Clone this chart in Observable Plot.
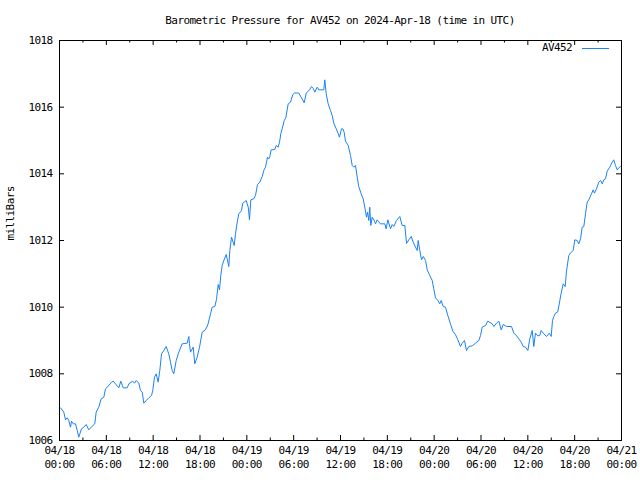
<!DOCTYPE html>
<html>
<head>
<meta charset="utf-8">
<script src="https://cdn.jsdelivr.net/npm/d3@7"></script>
<script src="https://cdn.jsdelivr.net/npm/@observablehq/plot@0.6"></script>
<style>
  html, body { margin: 0; padding: 0; background: #fff; }
  #wrap { position: relative; width: 640px; height: 480px; font-family: "DejaVu Sans Mono", monospace; font-size: 11px; letter-spacing: -0.6px; color: #000; }
  #title { box-sizing: border-box; height: 30px; padding: 10px 19px 0 59px; display: flex; align-items: center; justify-content: center; white-space: pre; }
  #legend { position: absolute; top: 42px; right: 31px; height: 12px; line-height: 12px; display: flex; align-items: center; white-space: pre; }
  #legend .swatch { display: inline-block; width: 27px; height: 0; border-top: 1px solid #1a82f5; margin-left: 10px; }
  svg text { letter-spacing: -0.6px; }
</style>
</head>
<body>
<div id="wrap">
  <div id="title"></div>
  <div id="chart"></div>
  <div id="legend"><span id="legendLabel"></span><span class="swatch"></span></div>
</div>
<script>
const titleText = "Barometric Pressure for AV452 on 2024-Apr-18 (time in UTC)";
const seriesName = "AV452";
const yLabel = "milliBars";
const lineColor = "#1a82f5";

// hours since 2024-04-18 00:00 UTC
const hours = [0.13,0.55,0.77,0.99,1.19,1.41,1.54,1.76,2.05,2.27,2.47,2.82,3.11,3.42,3.75,4.19,4.52,4.70,5.03,5.34,5.68,5.89,6.32,6.66,6.88,7.17,7.60,7.85,8.16,8.67,8.88,9.39,9.61,9.83,10.16,10.38,10.60,10.80,11.11,11.44,11.79,11.95,12.17,12.39,12.64,12.85,13.07,13.36,13.67,14.00,14.22,14.44,14.64,14.95,15.28,15.72,16.36,16.57,16.65,16.78,17.13,17.33,17.64,17.94,18.28,18.70,19.00,19.35,19.56,19.90,20.11,20.33,20.50,20.66,20.84,21.05,21.36,21.69,21.82,22.04,22.38,22.55,22.77,22.97,23.32,23.48,23.92,24.18,24.34,24.51,24.89,25.11,25.37,25.66,25.97,26.17,26.39,26.65,26.81,26.94,27.12,27.58,27.76,28.02,28.19,28.35,28.53,28.79,28.99,29.30,29.59,29.89,30.15,30.66,31.00,31.35,31.61,32.03,32.28,32.54,32.71,33.01,33.22,33.86,33.99,34.17,34.42,34.72,34.94,35.14,35.45,35.71,35.87,36.13,36.30,36.47,36.64,36.99,37.28,37.50,37.70,37.92,38.14,38.34,38.65,38.91,39.11,39.33,39.46,39.63,39.75,39.88,40.06,40.36,40.48,40.70,41.12,41.68,41.85,42.06,42.41,42.62,42.83,43.17,43.60,43.90,44.24,44.46,44.75,45.06,45.31,45.61,45.83,45.95,46.16,46.38,46.60,46.89,47.11,47.44,47.75,47.95,48.17,48.47,48.72,48.90,49.16,49.45,49.75,50.09,50.39,50.73,51.03,51.37,51.59,51.89,52.14,52.44,52.87,53.30,53.72,53.94,54.15,54.58,54.87,55.44,55.64,55.99,56.28,56.59,56.84,57.27,57.91,58.20,58.55,58.84,59.15,59.41,59.70,60.00,60.25,60.56,60.76,60.98,61.28,61.53,61.71,62.05,62.39,62.74,62.99,63.16,63.33,63.54,63.84,64.10,64.27,64.53,64.79,64.95,65.25,65.56,65.81,66.02,66.32,66.53,66.75,66.96,67.17,67.39,67.61,67.81,68.12,68.37,68.54,68.80,69.09,69.31,69.53,69.73,69.95,70.17,70.50,70.81,71.01,71.23,71.45,71.65,71.87];

const pressure = [1006.98,1006.85,1006.62,1006.68,1006.60,1006.40,1006.58,1006.50,1006.50,1006.30,1006.10,1006.35,1006.40,1006.48,1006.32,1006.43,1006.50,1006.85,1007.00,1007.25,1007.30,1007.55,1007.65,1007.75,1007.78,1007.70,1007.58,1007.78,1007.58,1007.58,1007.70,1007.78,1007.72,1007.80,1007.72,1007.50,1007.45,1007.12,1007.20,1007.28,1007.35,1007.50,1007.90,1008.00,1007.75,1008.10,1008.60,1008.70,1008.82,1008.60,1008.35,1008.10,1008.00,1008.40,1008.65,1008.90,1008.92,1009.12,1008.90,1008.65,1008.80,1008.30,1008.50,1008.80,1009.25,1009.32,1009.47,1009.80,1010.00,1010.02,1010.23,1010.68,1010.52,1010.95,1011.25,1011.40,1011.58,1011.22,1011.70,1012.10,1011.85,1012.20,1012.55,1012.80,1012.90,1013.12,1013.20,1013.00,1012.62,1013.22,1013.25,1013.35,1013.68,1013.75,1013.92,1014.10,1014.20,1014.50,1014.45,1014.52,1014.72,1014.73,1014.85,1014.80,1014.95,1015.20,1015.35,1015.60,1015.68,1016.10,1016.15,1016.38,1016.43,1016.42,1016.28,1016.13,1016.42,1016.52,1016.62,1016.55,1016.45,1016.60,1016.52,1016.52,1016.82,1016.40,1016.10,1015.90,1015.75,1015.52,1015.35,1015.20,1015.10,1015.35,1015.35,1015.25,1014.98,1014.85,1014.55,1014.25,1014.20,1014.25,1013.90,1013.62,1013.40,1013.25,1013.00,1012.70,1012.85,1012.60,1013.00,1012.45,1012.70,1012.58,1012.50,1012.62,1012.50,1012.50,1012.35,1012.62,1012.35,1012.48,1012.42,1012.60,1012.72,1012.45,1012.45,1011.91,1012.02,1012.12,1011.95,1011.80,1011.70,1012.00,1011.70,1011.42,1011.52,1011.40,1011.12,1010.95,1010.80,1010.55,1010.28,1010.20,1010.10,1010.20,1010.02,1010.00,1009.75,1009.50,1009.28,1009.18,1009.02,1008.82,1008.92,1009.00,1008.70,1008.82,1008.84,1008.92,1009.00,1009.15,1009.40,1009.45,1009.58,1009.50,1009.42,1009.52,1009.58,1009.32,1009.48,1009.42,1009.42,1009.22,1009.15,1009.05,1008.95,1008.82,1008.80,1008.70,1009.05,1009.30,1008.82,1009.22,1009.14,1009.15,1009.30,1009.20,1009.12,1009.22,1009.12,1009.60,1009.72,1009.82,1009.86,1010.20,1010.42,1010.70,1010.62,1011.08,1011.55,1011.65,1011.70,1012.02,1012.00,1011.90,1012.05,1012.40,1012.42,1012.80,1013.15,1013.22,1013.38,1013.52,1013.42,1013.55,1013.75,1013.80,1013.70,1013.82,1013.85,1014.08,1014.20,1014.35,1014.42,1014.25,1014.12,1014.18,1014.22];

// axis ticks
const majorTickHours = [0, 6, 12, 18, 24, 30, 36, 42, 48, 54, 60, 66, 72];
const minorTickHours = [3, 9, 15, 21, 27, 33, 39, 45, 51, 57, 63, 69];
const dateLabels = ["04/18","04/18","04/18","04/18","04/19","04/19","04/19","04/19","04/20","04/20","04/20","04/20","04/21"];
const timeLabels = ["00:00","06:00","12:00","18:00","00:00","06:00","12:00","18:00","00:00","06:00","12:00","18:00","00:00"];
const yTicks = [1006, 1008, 1010, 1012, 1014, 1016, 1018];

const base = Date.UTC(2024, 3, 18, 0, 0, 0);
const toDate = h => new Date(base + h * 3600e3);

const data = hours.map((h, i) => ({time: toDate(h), value: pressure[i]}));
const majorTicks = majorTickHours.map(toDate);
const minorTicks = minorTickHours.map(toDate);
const labelRows = majorTicks.map((t, i) => ({t, d: dateLabels[i], c: timeLabels[i]}));

const W = 640, H = 450;
const mL = 59, mR = 19, mT = 10, mB = 40;
const plotW = W - mL - mR, plotH = H - mT - mB;
const major = 5, minor = 2.5;

document.getElementById("title").textContent = titleText;
document.getElementById("legendLabel").textContent = seriesName;

const chart = Plot.plot({
  width: W,
  height: H,
  marginLeft: mL,
  marginRight: mR,
  marginTop: mT,
  marginBottom: mB,
  style: {fontFamily: "DejaVu Sans Mono", fontSize: "11px", background: "#fff", color: "#000"},
  x: {type: "utc", domain: [toDate(0), toDate(72)], axis: null},
  y: {domain: [1006, 1018], nice: false},
  marks: [
    Plot.line(data, {x: "time", y: "value", stroke: lineColor, strokeWidth: 1}),
    // bottom & top ticks (inward)
    Plot.ruleX(majorTicks, {stroke: "#000", insetTop: plotH - major}),
    Plot.ruleX(majorTicks, {stroke: "#000", insetBottom: plotH - major}),
    Plot.ruleX(minorTicks, {stroke: "#000", insetTop: plotH - minor}),
    Plot.ruleX(minorTicks, {stroke: "#000", insetBottom: plotH - minor}),
    // left & right ticks (inward)
    Plot.ruleY(yTicks, {stroke: "#000", insetRight: plotW - major}),
    Plot.ruleY(yTicks, {stroke: "#000", insetLeft: plotW - major}),
    Plot.frame({stroke: "#000"}),
    Plot.axisY(yTicks, {tickSize: 0, tickPadding: 7, label: null, tickFormat: d => String(d)}),
    Plot.text(labelRows, {x: "t", text: "d", frameAnchor: "bottom", dy: 13, fill: "#000"}),
    Plot.text(labelRows, {x: "t", text: "c", frameAnchor: "bottom", dy: 27, fill: "#000"}),
    Plot.text([yLabel], {frameAnchor: "left", dx: -49, rotate: -90, fill: "#000"})
  ]
});
document.getElementById("chart").appendChild(chart);
</script>
</body>
</html>
